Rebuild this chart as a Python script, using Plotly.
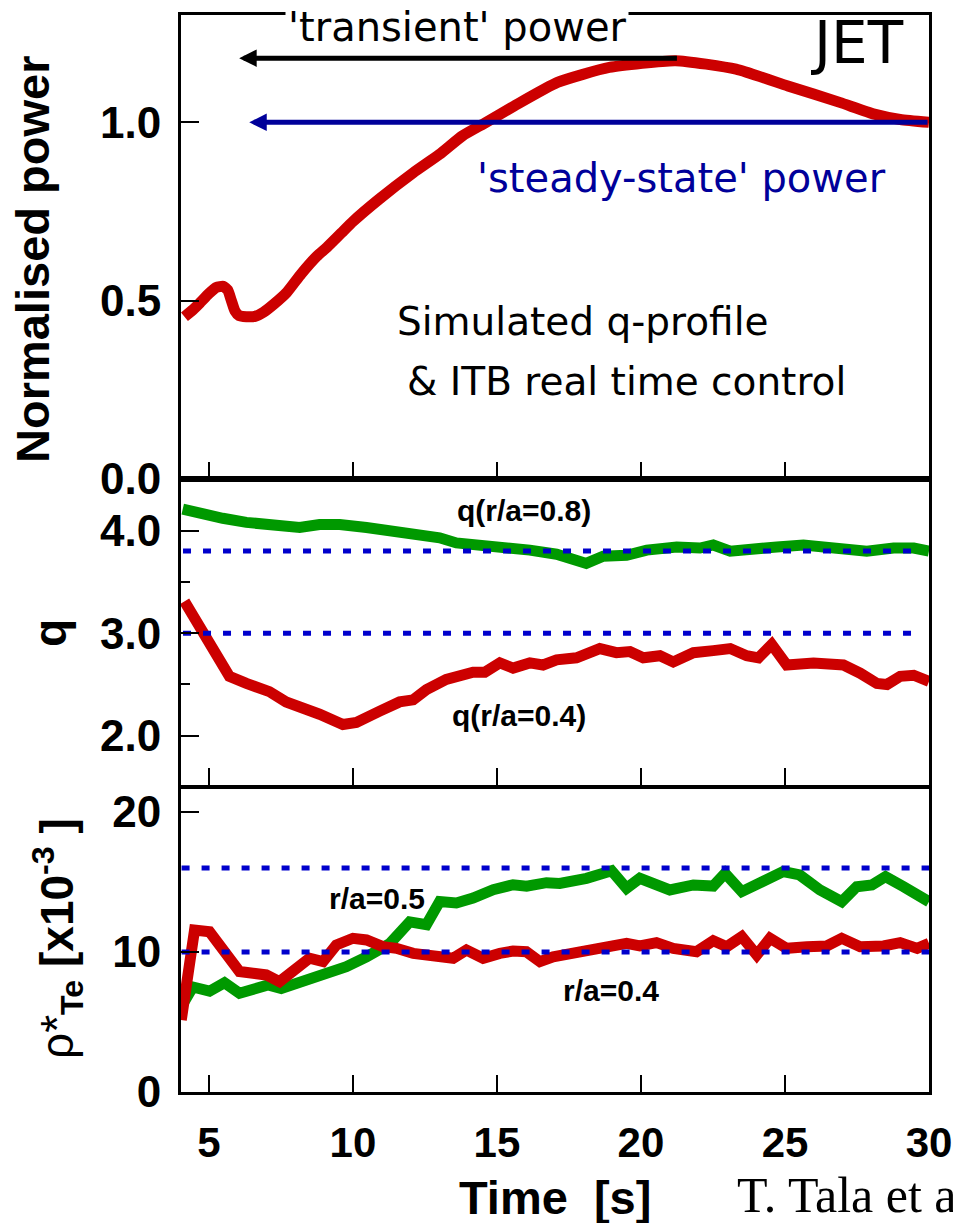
import plotly.graph_objects as go

# ---------------- data ----------------
x_ticks = [5, 10, 15, 20, 25, 30]

# Normalised power (top panel)
t_power = [4.15, 4.45, 4.7, 5.0, 5.25, 5.5, 5.65, 5.78, 5.9, 6.05, 6.3, 6.6, 6.9, 7.25, 7.7, 8.2,
           8.75, 9.1, 9.6, 10.0, 10.9, 12.1, 13.0, 13.8, 14.6, 15.6, 17.1, 18.9, 21.2, 23.3,
           25.1, 26.9, 28.1, 29.0, 30.0]
power = [0.455, 0.475, 0.495, 0.52, 0.537, 0.54, 0.53, 0.5, 0.472, 0.458, 0.455, 0.456, 0.468,
         0.49, 0.523, 0.575, 0.625, 0.65, 0.69, 0.722, 0.784, 0.859, 0.91, 0.962, 0.999, 1.046,
         1.112, 1.154, 1.173, 1.149, 1.102, 1.056, 1.023, 1.008, 1.0]
transient_level = 1.18
transient_span = [21.3, 6.05]
steady_level = 1.0
steady_span = [30.0, 6.4]

# q panel
t_q08 = [4.09, 4.79, 5.48, 6.3, 7.1, 8.15, 8.84, 9.54, 10.47, 11.16, 11.86, 12.32, 13.01, 13.59,
         14.4, 15.1, 16.14, 17.07, 17.76, 18.1, 18.69, 19.5, 20.2, 21.24, 22.05, 22.51, 23.1,
         23.9, 24.72, 25.64, 26.68, 27.84, 28.77, 29.47, 30.0]
q08 = [4.21, 4.16, 4.12, 4.08, 4.06, 4.03, 4.06, 4.06, 4.03, 4.01, 3.97, 3.97, 3.93, 3.88, 3.86,
       3.85, 3.81, 3.77, 3.71, 3.68, 3.75, 3.76, 3.81, 3.84, 3.83, 3.86, 3.80, 3.81, 3.84, 3.86,
       3.84, 3.80, 3.83, 3.83, 3.80]
t_q04 = [4.15, 4.56, 5.14, 5.71, 6.3, 7.1, 7.68, 8.15, 8.84, 9.65, 10.12, 10.93, 11.62, 12.09,
         12.55, 13.24, 14.17, 14.58, 15.1, 15.56, 16.14, 16.6, 17.07, 17.76, 18.57, 19.15, 19.62,
         20.08, 20.66, 21.12, 21.82, 22.51, 23.1, 23.67, 24.08, 24.54, 25.06, 25.99, 26.45,
         27.03, 27.61, 28.19, 28.54, 29.0, 29.47, 30.0]
q04 = [3.31, 3.13, 2.84, 2.58, 2.51, 2.43, 2.33, 2.27, 2.21, 2.11, 2.13, 2.24, 2.33, 2.35, 2.45,
       2.55, 2.62, 2.62, 2.71, 2.66, 2.71, 2.69, 2.74, 2.76, 2.85, 2.81, 2.82, 2.76, 2.78, 2.72,
       2.81, 2.83, 2.85, 2.78, 2.76, 2.89, 2.69, 2.71, 2.69, 2.69, 2.61, 2.51, 2.50, 2.58, 2.59,
       2.53]
q_targets = [3.8, 3.0]
q_target_span = [4.1, 29.5]

# rho* panel
t_rho05 = [4.04, 4.44, 5.02, 5.54, 6.06, 6.53, 7.05, 7.51, 8.03, 8.61, 9.08, 9.77, 10.47, 11.28,
           11.97, 12.55, 13.01, 13.59, 14.17, 14.87, 15.56, 16.03, 16.72, 17.18, 18.11, 18.98,
           19.5, 19.96, 21.0, 21.82, 22.51, 22.92, 23.5, 24.13, 24.94, 25.51, 26.21, 26.97,
           27.49, 28.02, 28.49, 29.12, 29.59, 30.0]
rho05 = [6.1, 7.5, 7.2, 7.8, 7.05, 7.25, 7.65, 7.4, 7.75, 8.0, 8.5, 8.95, 9.65, 10.6, 12.15, 11.95,
         13.6, 13.5, 13.85, 14.45, 14.8, 14.7, 14.95, 14.9, 15.26, 15.8, 14.55, 15.26, 14.43,
         14.79, 14.71, 15.62, 14.31, 15.02, 15.74, 15.5, 14.43, 13.59, 14.66, 14.79, 15.38,
         14.66, 14.19, 13.59]
t_rho04 = [4.04, 4.27, 4.5, 5.02, 5.48, 6.06, 6.53, 6.99, 7.45, 7.92, 8.49, 8.96, 9.42, 10.0,
           10.47, 11.04, 11.51, 12.09, 12.78, 13.48, 13.94, 14.52, 15.1, 15.56, 16.02, 16.49,
           16.95, 17.99, 18.92, 19.5, 19.96, 20.54, 21.12, 21.93, 22.51, 22.98, 23.5, 24.02,
           24.48, 25.06, 25.76, 26.45, 26.97, 27.61, 28.42, 29.0, 29.59, 30.0]
rho04 = [5.14, 8.0, 11.57, 11.45, 10.26, 8.6, 8.48, 8.36, 7.88, 8.6, 9.55, 9.31, 10.5, 10.98,
         10.86, 10.38, 10.26, 9.9, 9.66, 9.55, 10.14, 9.55, 9.9, 10.07, 10.02, 9.31, 9.66, 10.02,
         10.26, 10.62, 10.43, 10.67, 10.26, 10.02, 10.81, 10.38, 11.1, 9.79, 10.98, 10.26, 10.38,
         10.43, 10.98, 10.38, 10.43, 10.67, 10.26, 10.62]
rho_targets = [16.0, 10.0]
rho_target_span = [4.05, 30.0]

# ---------------- style ----------------
RED = "#cc0000"
GREEN = "#009900"
BLUE = "#0000cc"
NAVY = "#00009a"
SANS = "Liberation Sans, Arial, sans-serif"
TAHOMA = "DejaVu Sans, Verdana, sans-serif"
SERIF = "Liberation Serif, Times New Roman, serif"

W, H = 953, 1223
ML, MR, MT, MB = 181, 24, 15, 131
PW, PH = W - ML - MR, H - MT - MB


def px(xp):
    return (xp - ML) / PW


def py(yp):
    return (H - MB - yp) / PH


fig = go.Figure()

fig.add_trace(go.Scatter(x=t_power, y=power, mode="lines", xaxis="x", yaxis="y",
                         line=dict(color=RED, width=11, shape="spline", smoothing=0.5)))

fig.add_trace(go.Scatter(x=t_q08, y=q08, mode="lines", xaxis="x2", yaxis="y2",
                         line=dict(color=GREEN, width=11)))
fig.add_trace(go.Scatter(x=t_q04, y=q04, mode="lines", xaxis="x2", yaxis="y2",
                         line=dict(color=RED, width=11)))
for lvl in q_targets:
    fig.add_trace(go.Scatter(x=q_target_span, y=[lvl, lvl], mode="lines", xaxis="x2", yaxis="y2",
                             line=dict(color=BLUE, width=5, dash="8px,12px")))

fig.add_trace(go.Scatter(x=t_rho05, y=rho05, mode="lines", xaxis="x3", yaxis="y3",
                         line=dict(color=GREEN, width=11)))
fig.add_trace(go.Scatter(x=t_rho04, y=rho04, mode="lines", xaxis="x3", yaxis="y3",
                         line=dict(color=RED, width=11)))
for lvl in rho_targets:
    fig.add_trace(go.Scatter(x=rho_target_span, y=[lvl, lvl], mode="lines", xaxis="x3", yaxis="y3",
                             line=dict(color=BLUE, width=5, dash="8px,12px")))

common_x = dict(range=[4.03, 30.0], tickvals=x_ticks, ticks="inside", ticklen=17, tickwidth=2,
                tickcolor="black", showline=True, linecolor="black", linewidth=3, mirror=True,
                showgrid=False, zeroline=False, domain=[0, 1], automargin=False)
common_y = dict(ticks="inside", ticklen=18, tickwidth=2, tickcolor="black", showline=True,
                linecolor="black", linewidth=3, mirror=True, showgrid=False, zeroline=False,
                tickfont=dict(family=SANS, size=44, color="black", weight="bold"),
                ticklabelstandoff=8, automargin=False)

top_dom = [py(479), 1.0]
mid_dom = [py(785), py(479)]
bot_dom = [0.0, py(789)]

fig.update_layout(
    width=W, height=H, margin=dict(l=ML, r=MR, t=MT, b=MB, autoexpand=False),
    paper_bgcolor="white", plot_bgcolor="white", showlegend=False,
    xaxis=dict(common_x, anchor="y", showticklabels=False),
    xaxis2=dict(common_x, anchor="y2", showticklabels=False),
    xaxis3=dict(common_x, anchor="y3", showticklabels=True,
                tickfont=dict(family=SANS, size=42, color="black", weight="bold"),
                ticklabelstandoff=12),
    yaxis=dict(common_y, domain=top_dom, range=[0, 1.301], tickvals=[0, 0.5, 1.0],
               ticktext=["0.0", "0.5", "1.0"], anchor="x"),
    yaxis2=dict(common_y, domain=mid_dom, range=[1.52, 4.503], tickvals=[2, 3, 4],
                ticktext=["2.0", "3.0", "4.0"], anchor="x2",
                minor=dict(tickvals=[2.5, 3.5], ticks="inside", ticklen=9, tickwidth=2,
                           tickcolor="black")),
    yaxis3=dict(common_y, domain=bot_dom, range=[0, 21.64], tickvals=[0, 10, 20],
                ticktext=["0", "10", "20"], anchor="x3"),
)

ann = []
# arrows
ann.append(dict(x=transient_span[1], y=transient_level, ax=transient_span[0], ay=transient_level,
                xref="x", yref="y", axref="x", ayref="y", text="", showarrow=True,
                arrowhead=2, arrowsize=0.7, arrowwidth=5, arrowcolor="black",
                standoff=0, startstandoff=0))
ann.append(dict(x=steady_span[1], y=steady_level, ax=steady_span[0], ay=steady_level,
                xref="x", yref="y", axref="x", ayref="y", text="", showarrow=True,
                arrowhead=2, arrowsize=0.7, arrowwidth=5, arrowcolor=NAVY,
                standoff=0, startstandoff=0))


def txt(text, xp, yp, size, family=SANS, color="black", xanchor="left", weight="normal",
        angle=0, bg=None):
    d = dict(text=text, x=px(xp), y=py(yp), xref="paper", yref="paper", showarrow=False,
             xanchor=xanchor, yanchor="middle", textangle=angle,
             font=dict(family=family, size=size, color=color, weight=weight))
    if bg:
        d["bgcolor"] = bg
        d["borderpad"] = 2
    return d


ann.append(txt("'transient' power", 457, 27, 40, TAHOMA, xanchor="center", bg="white"))
ann.append(txt("JET", 857, 43, 58, TAHOMA, xanchor="center"))
ann.append(txt("'steady-state' power", 681, 178, 40, TAHOMA, color=NAVY, xanchor="center"))
ann.append(txt("Simulated q-profile", 395, 322, 39, TAHOMA))
ann.append(txt("& ITB real time control", 405, 381, 39, TAHOMA))
ann.append(txt("q(r/a=0.8)", 455, 511, 30, weight="bold"))
ann.append(txt("q(r/a=0.4)", 450, 715, 30, weight="bold"))
ann.append(txt("r/a=0.5", 327, 898, 30, weight="bold"))
ann.append(txt("r/a=0.4", 561, 990, 30, weight="bold"))

# axis titles
ann.append(txt("Normalised power", 32, 260, 47, weight="bold", xanchor="center", angle=-90))
ann.append(txt("q", 50, 633, 46, weight="bold", xanchor="center", angle=-90))
ann.append(txt("ρ*<b><sub>Te</sub></b><b> [x10</b><b><sup>-3</sup></b><b> ]</b>", 57, 939, 46,
               xanchor="center", angle=-90))
ann.append(txt("Time\u00a0 [s]", 555, 1197, 47, weight="bold", xanchor="center"))
ann.append(txt("T. Tala et al", 735, 1195, 50, SERIF))

fig.update_layout(annotations=ann)

fig.write_html("out.html")
